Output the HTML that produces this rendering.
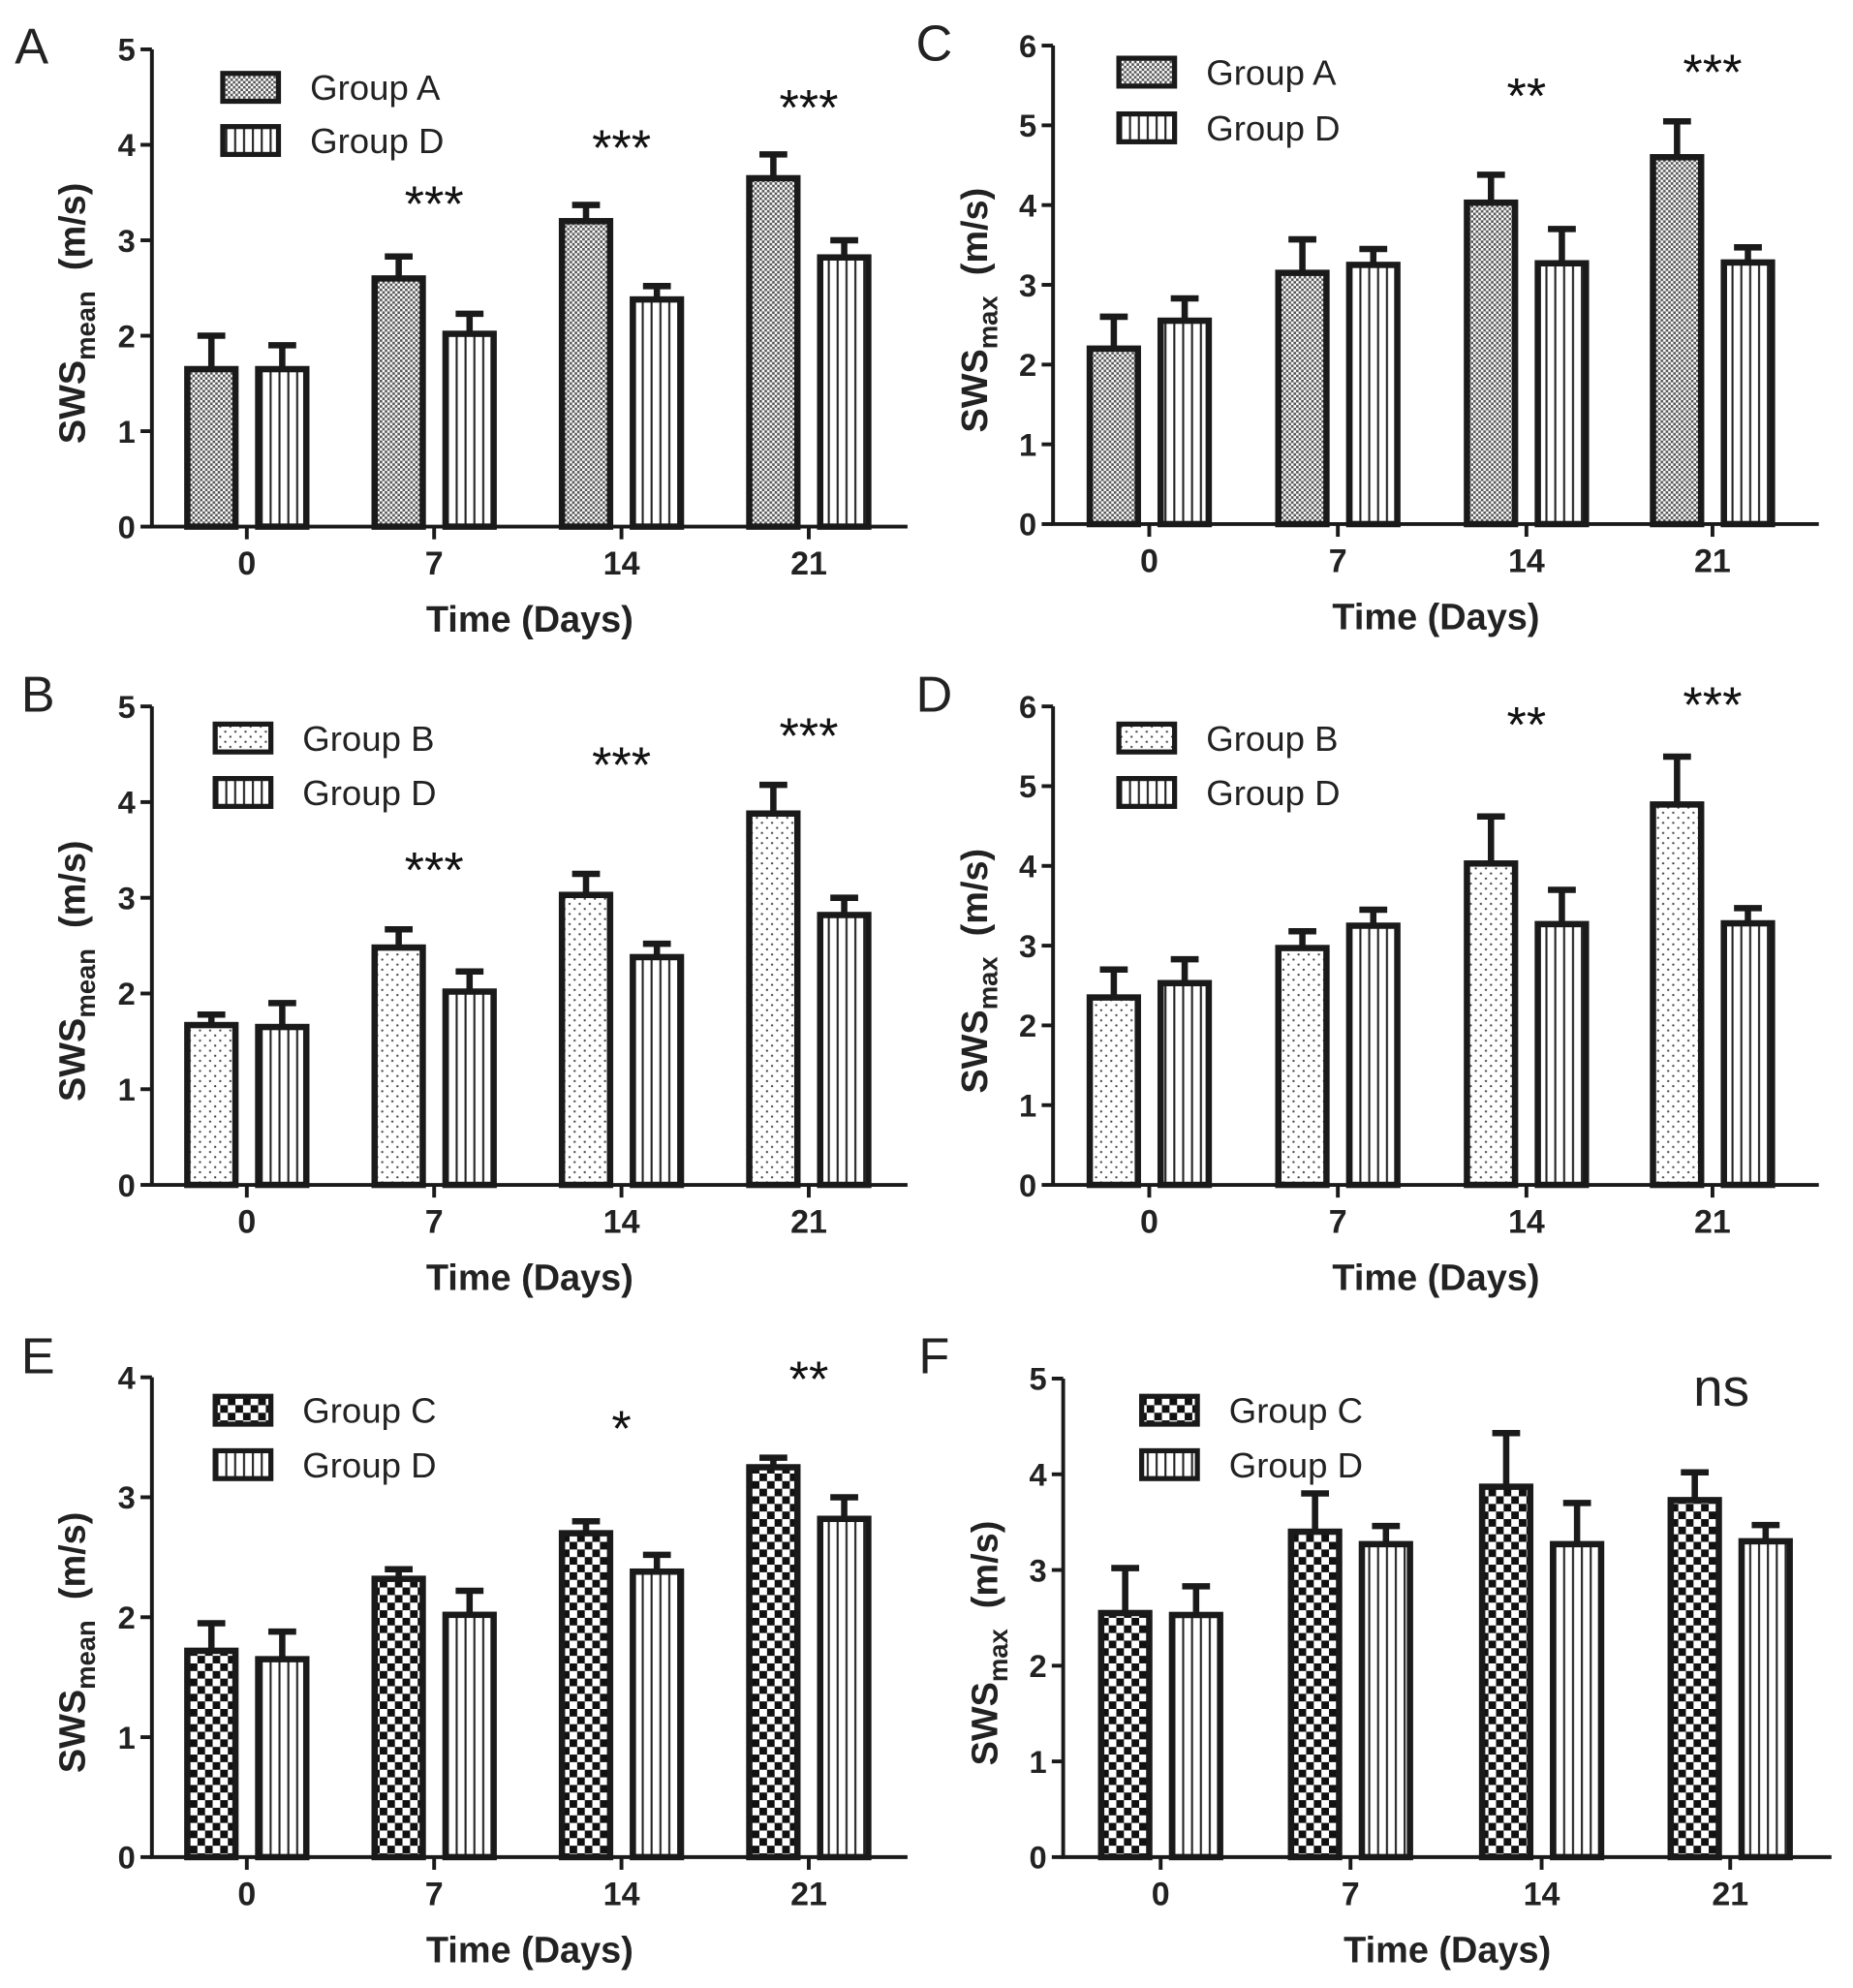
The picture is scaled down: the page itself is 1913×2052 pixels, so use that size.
<!DOCTYPE html>
<html><head><meta charset="utf-8"><style>
html,body{margin:0;padding:0;background:#fff}
svg{display:block}
text{font-family:"Liberation Sans",Arial,sans-serif;fill:#222}
</style></head><body>
<svg id="fig" xmlns="http://www.w3.org/2000/svg" width="1913" height="2052" viewBox="0 0 1464 1570.4">
<defs>
<pattern id="pA" width="4" height="4" patternUnits="userSpaceOnUse"><rect width="4" height="4" fill="#fff"/><rect width="2" height="2" fill="#555"/><rect x="2" y="2" width="2" height="2" fill="#555"/></pattern>
<pattern id="pB" width="8" height="8" patternUnits="userSpaceOnUse"><rect width="8" height="8" fill="#fff"/><circle cx="2" cy="2" r="0.9" fill="#444"/><circle cx="6" cy="6" r="0.9" fill="#444"/></pattern>
<pattern id="pC" width="12" height="12" patternUnits="userSpaceOnUse"><rect width="12" height="12" fill="#fff"/><rect width="6" height="6" fill="#111"/><rect x="6" y="6" width="6" height="6" fill="#111"/></pattern>
<pattern id="pD" width="7" height="7" patternUnits="userSpaceOnUse"><rect width="7" height="7" fill="#fff"/><rect x="3" width="1.6" height="7" fill="#222"/></pattern>
</defs>
</svg>
<script>
const categories = ["0","7","14","21"];
// Panel A
const aGroupA = [1.65, 2.6, 3.2, 3.65];
const aGroupAErr = [2.0, 2.83, 3.37, 3.9];
const aGroupD = [1.65, 2.02, 2.38, 2.82];
const aGroupDErr = [1.9, 2.23, 2.52, 3.0];
const aStars = ["", "***", "***", "***"];
const aStarY = [0, 3.49, 4.08, 4.5];
// Panel B
const bGroupB = [1.67, 2.48, 3.03, 3.88];
const bGroupBErr = [1.78, 2.67, 3.25, 4.18];
const bGroupD = [1.65, 2.02, 2.38, 2.82];
const bGroupDErr = [1.9, 2.23, 2.52, 3.0];
const bStars = ["", "***", "***", "***"];
const bStarY = [0, 3.4, 4.5, 4.8];
// Panel C
const cGroupA = [2.2, 3.15, 4.03, 4.6];
const cGroupAErr = [2.6, 3.57, 4.38, 5.05];
const cGroupD = [2.55, 3.25, 3.27, 3.28];
const cGroupDErr = [2.83, 3.45, 3.7, 3.47];
const cStars = ["", "", "**", "***"];
const cStarY = [0, 0, 5.5, 5.8];
// Panel D
const dGroupB = [2.35, 2.97, 4.03, 4.77];
const dGroupBErr = [2.7, 3.18, 4.62, 5.37];
const dGroupD = [2.53, 3.25, 3.27, 3.28];
const dGroupDErr = [2.83, 3.45, 3.7, 3.47];
const dStars = ["", "", "**", "***"];
const dStarY = [0, 0, 5.9, 6.15];
// Panel E
const eGroupC = [1.72, 2.32, 2.7, 3.25];
const eGroupCErr = [1.95, 2.4, 2.8, 3.33];
const eGroupD = [1.65, 2.02, 2.38, 2.82];
const eGroupDErr = [1.88, 2.22, 2.52, 3.0];
const eStars = ["", "", "*", "**"];
const eStarY = [0, 0, 3.66, 4.07];
// Panel F
const fGroupC = [2.55, 3.4, 3.87, 3.73];
const fGroupCErr = [3.02, 3.8, 4.43, 4.02];
const fGroupD = [2.53, 3.27, 3.27, 3.3];
const fGroupDErr = [2.83, 3.46, 3.7, 3.47];
const fStars = ["", "", "", "ns"];
const fStarY = [0, 0, 0, 4.9];

const NS = "http://www.w3.org/2000/svg";
const svg = document.getElementById('fig');
function mk(tag, attrs, parent, txt) {
  const e = document.createElementNS(NS, tag);
  for (const k in attrs) e.setAttribute(k, attrs[k]);
  if (txt !== undefined) e.textContent = txt;
  (parent || svg).appendChild(e);
  return e;
}

const panels = [
 {id:"a", letter:"A", lx:25, ly:50, x0:120, x1:717, y0:416, yt:39, ymax:5, ticks:[195,343,491,639], legX:176, legY:[69,111], ylabX:57, sub:"mean", g1:"Group A", p1:"pA", v1:aGroupA, e1:aGroupAErr, v2:aGroupD, e2:aGroupDErr, stars:aStars, starY:aStarY},
 {id:"c", letter:"C", lx:738, ly:48, x0:832, x1:1437, y0:414, yt:36, ymax:6, ticks:[908,1057,1206,1353], legX:884, legY:[57,101], ylabX:770, sub:"max", g1:"Group A", p1:"pA", v1:cGroupA, e1:cGroupAErr, v2:cGroupD, e2:cGroupDErr, stars:cStars, starY:cStarY},
 {id:"b", letter:"B", lx:30, ly:562, x0:120, x1:717, y0:936, yt:558, ymax:5, ticks:[195,343,491,639], legX:170, legY:[583,626], ylabX:57, sub:"mean", g1:"Group B", p1:"pB", v1:bGroupB, e1:bGroupBErr, v2:bGroupD, e2:bGroupDErr, stars:bStars, starY:bStarY},
 {id:"d", letter:"D", lx:738, ly:562, x0:832, x1:1437, y0:936, yt:558, ymax:6, ticks:[908,1057,1206,1353], legX:884, legY:[583,626], ylabX:770, sub:"max", g1:"Group B", p1:"pB", v1:dGroupB, e1:dGroupBErr, v2:dGroupD, e2:dGroupDErr, stars:dStars, starY:dStarY},
 {id:"e", letter:"E", lx:30, ly:1085, x0:120, x1:717, y0:1467, yt:1088, ymax:4, ticks:[195,343,491,639], legX:170, legY:[1114,1157], ylabX:57, sub:"mean", g1:"Group C", p1:"pC", v1:eGroupC, e1:eGroupCErr, v2:eGroupD, e2:eGroupDErr, stars:eStars, starY:eStarY},
 {id:"f", letter:"F", lx:738, ly:1085, x0:840, x1:1447, y0:1467, yt:1089, ymax:5, ticks:[917,1067,1218,1367], legX:902, legY:[1114,1157], ylabX:778, sub:"max", g1:"Group C", p1:"pC", v1:fGroupC, e1:fGroupCErr, v2:fGroupD, e2:fGroupDErr, stars:fStars, starY:fStarY}
];

panels.forEach(P => {
  const g = mk('g', {});
  
  
  const y = v => P.y0 - v / P.ymax * (P.y0 - P.yt);
  const L = mk('text', {x:P.lx, y:P.ly, 'font-size':40, 'text-anchor':'middle'}, g, P.letter);
  
  
  const series = [[P.v1, P.e1, P.p1, -28], [P.v2, P.e2, 'pD', 28]];
  series.forEach((s, si) => {
    s[0].forEach((v, i) => {
      const cx = P.ticks[i] + s[3];
      const bw = 38;
      const eb = mk('path', {d:`M${cx} ${y(v)}V${y(s[1][i])}M${cx-11} ${y(s[1][i])}H${cx+11}`, stroke:'#1a1a1a', 'stroke-width':5, fill:'none'}, g);
      
      
      const r = mk('rect', {x:cx-bw/2, y:y(v), width:bw, height:P.y0 - y(v), fill:`url(#${s[2]})`, stroke:'#1a1a1a', 'stroke-width':5}, g);
      
      
    });
  });
  const ax = mk('path', {d:`M${P.x0} ${P.yt}V${P.y0}H${P.x1}`, stroke:'#1a1a1a', 'stroke-width':3, fill:'none'}, g);
  
  
  for (let t = 0; t <= P.ymax; t++) {
    mk('line', {x1:P.x0-9, x2:P.x0, y1:y(t), y2:y(t), stroke:'#1a1a1a', 'stroke-width':3}, g);
    const tl = mk('text', {x:P.x0-13, y:y(t)+9, 'font-size':25, 'font-weight':'bold', 'text-anchor':'end'}, g, String(t));
    
    
  }
  P.ticks.forEach((tx, i) => {
    mk('line', {x1:tx, x2:tx, y1:P.y0, y2:P.y0+10, stroke:'#1a1a1a', 'stroke-width':3}, g);
    const tl = mk('text', {x:tx, y:P.y0+38, 'font-size':26, 'font-weight':'bold', 'text-anchor':'middle'}, g, categories[i]);
    
    
    if (P.stars[i]) {
      const ns = P.stars[i] === 'ns';
      const st = mk('text', {x:ns ? tx-7 : tx, y:y(P.starY[i]) + (ns ? 14 : 22), 'font-size':ns ? 42 : 40, 'text-anchor':'middle', style:ns ? '' : 'fill:#111'}, g, P.stars[i]);
      
      
    }
  });
  const xt = mk('text', {x:(P.x0+P.x1)/2, y:P.y0+83, 'font-size':29, 'font-weight':'bold', 'text-anchor':'middle'}, g, 'Time (Days)');
  
  
  const cyl = (P.y0 + P.yt) / 2 + 20;
  const yl = mk('text', {transform:`translate(${P.ylabX},${cyl}) rotate(-90)`, 'font-size':29, 'font-weight':'bold', 'text-anchor':'middle', y:10}, g);
  
  
  mk('tspan', {}, yl, 'SWS');
  mk('tspan', {'font-size':21, dy:8}, yl, P.sub);
  mk('tspan', {dy:-8}, yl, '\u00a0\u00a0(m/s)');
  [[P.g1, P.p1], ['Group D', 'pD']].forEach((lg, k) => {
    const le = mk('g', {}, g);
    
    
    mk('rect', {x:P.legX, y:P.legY[k]-11, width:44, height:22, fill:`url(#${lg[1]})`, stroke:'#1a1a1a', 'stroke-width':4}, le);
    mk('text', {x:P.legX+69, y:P.legY[k]+10, 'font-size':28}, le, lg[0]);
  });
});
</script>
</body></html>
